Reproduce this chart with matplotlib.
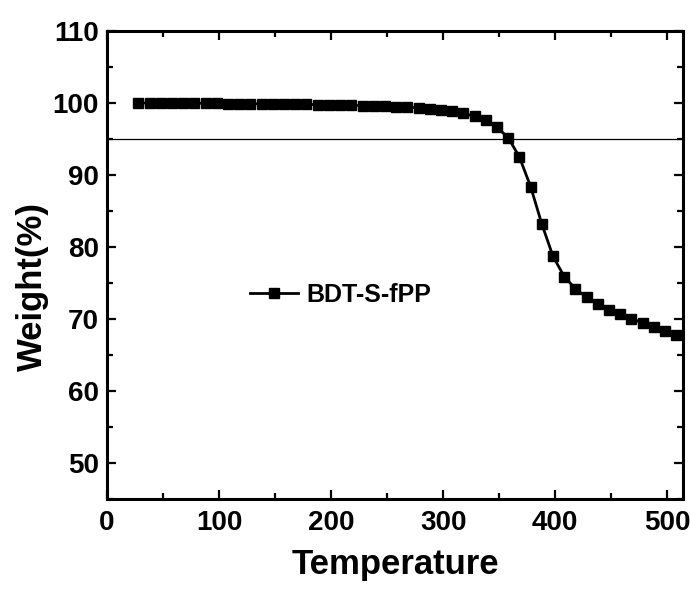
import matplotlib
matplotlib.use("Agg")
import matplotlib.pyplot as plt
from matplotlib.ticker import MultipleLocator

# TGA data
temperature = [28, 38, 48, 58, 68, 78, 88, 98, 108, 118, 128, 138, 148, 158,
               168, 178, 188, 198, 208, 218, 228, 238, 248, 258, 268, 278,
               288, 298, 308, 318, 328, 338, 348, 358, 368, 378, 388, 398,
               408, 418, 428, 438, 448, 458, 468, 478, 488, 498, 508]
weight = [100.0, 100.0, 100.0, 100.0, 100.0, 99.98, 99.96, 99.95, 99.93,
          99.91, 99.9, 99.88, 99.86, 99.84, 99.82, 99.8, 99.78, 99.75, 99.72,
          99.68, 99.64, 99.6, 99.55, 99.5, 99.42, 99.32, 99.2, 99.05, 98.85,
          98.55, 98.15, 97.6, 96.6, 95.2, 92.5, 88.4, 83.2, 78.7, 75.9, 74.2,
          73.0, 72.1, 71.3, 70.7, 70.0, 69.5, 68.9, 68.3, 67.8]
series_name = "BDT-S-fPP"
threshold = 95

narrow = ["Liberation Sans Narrow", "Liberation Sans", "DejaVu Sans"]
wide = ["Liberation Sans", "DejaVu Sans"]

fig = plt.figure(figsize=(6.91, 5.89), dpi=100)
ax = fig.add_axes([107 / 691, 1 - 499 / 589, 576 / 691, 468 / 589])

ax.plot(temperature, weight, color="black", lw=2, marker="s", ms=6.8,
        label=series_name)
ax.axhline(threshold, color="black", lw=0.9)

ax.set_xlim(0, 514)
ax.set_ylim(45, 110)
ax.xaxis.set_major_locator(MultipleLocator(100))
ax.xaxis.set_minor_locator(MultipleLocator(50))
ax.yaxis.set_major_locator(MultipleLocator(10))
ax.yaxis.set_minor_locator(MultipleLocator(5))
ax.set_yticks([50, 60, 70, 80, 90, 100, 110])

ax.tick_params(which="both", direction="in", top=True, right=True,
               width=1.6, pad=6)
ax.tick_params(which="major", length=6.5)
ax.tick_params(which="minor", length=4)
ax.tick_params(axis="x", which="major", pad=8)
for sp in ax.spines.values():
    sp.set_linewidth(2.2)

for lab in ax.get_xticklabels() + ax.get_yticklabels():
    lab.set_family(narrow)
    lab.set_fontweight("bold")
    lab.set_fontsize(20)

ax.set_xlabel("Temperature", family=wide, fontweight="bold", fontsize=25,
              va="top")
ax.set_ylabel("Weight(%)", family=wide, fontweight="bold", fontsize=25)
ax.xaxis.set_label_coords(0.5, -0.105)
ax.yaxis.set_label_coords(-0.1, 0.453)

leg = ax.legend(loc="center left", bbox_to_anchor=(0.21, 0.436),
                frameon=False, handlelength=1.9, handletextpad=0.35,
                prop={"family": narrow, "weight": "bold", "size": 18})

plt.savefig("out.png", dpi=100)
